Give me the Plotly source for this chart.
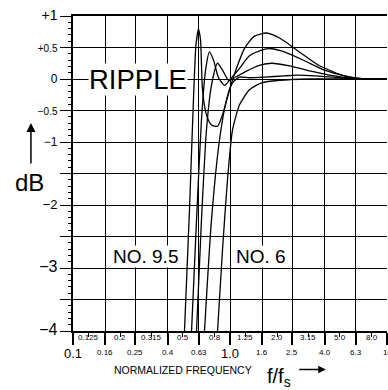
import math
import plotly.graph_objects as go

# ---- data ----
freq_a = [0.513, 0.552, 0.585, 0.607, 0.630, 0.649, 0.668, 0.708, 0.762, 0.833, 0.909, 0.993, 1.10, 1.24, 1.43, 1.71, 2.07, 2.77, 3.72, 5.36, 7.2, 10.0]
db_a = [-4.0, -2.08, -0.33, 0.54, 0.79, 0.62, -0.17, -0.57, -0.73, -0.75, -0.52, -0.17, 0.17, 0.49, 0.68, 0.73, 0.65, 0.43, 0.21, 0.05, 0.0, 0.0]

freq_b = [0.569, 0.612, 0.658, 0.699, 0.740, 0.785, 0.845, 0.922, 1.007, 1.15, 1.33, 1.59, 1.84, 2.22, 2.98, 4.0, 5.36, 7.2, 10.0]
db_b = [-4.0, -2.24, -0.65, 0.14, 0.43, 0.30, 0.02, -0.10, 0.0, 0.17, 0.37, 0.46, 0.48, 0.43, 0.29, 0.14, 0.05, 0.0, 0.0]

freq_c = [0.612, 0.658, 0.708, 0.762, 0.833, 0.896, 0.98, 1.068, 1.24, 1.50, 1.84, 2.39, 3.21, 4.63, 6.8, 10.0]
db_c = [-4.0, -2.24, -0.81, -0.10, 0.25, 0.14, -0.02, 0.02, 0.11, 0.21, 0.25, 0.21, 0.13, 0.05, 0.0, 0.0]

freq_d = [0.688, 0.762, 0.857, 0.950, 1.037, 1.15, 1.33, 1.66, 2.22, 2.69, 3.45, 4.98, 6.8, 10.0]
db_d = [-4.0, -2.24, -0.97, -0.33, -0.06, 0.03, 0.02, 0.03, 0.05, 0.06, 0.05, 0.02, 0.0, 0.0]

freq_e = [0.833, 0.896, 0.964, 1.037, 1.15, 1.33, 1.59, 2.07, 3.21, 10.0]
db_e = [-4.0, -2.71, -1.60, -0.81, -0.41, -0.17, -0.06, -0.02, 0.0, 0.0]

major_f = [0.1, 0.16, 0.25, 0.4, 0.63, 1.0, 1.6, 2.5, 4.0, 6.3, 10.0]
major_lbl = ["0.1", "0.16", "0.25", "0.4", "0.63", "1.0", "1.6", "2.5", "4.0", "6.3", "10"]
minor_f = [0.125, 0.2, 0.315, 0.5, 0.8, 1.25, 2.0, 3.15, 5.0, 8.0]
minor_lbl = ["0.125", "0.2", "0.315", "0.5", "0.8", "1.25", "2.0", "3.15", "5.0", "8.0"]

db_ticks = [1, 0.5, 0, -0.5, -1, -1.5, -2, -2.5, -3, -3.5, -4]
db_lbl = ["+1", "+0.5", "0", "−0.5", "−1", "", "−2", "", "−3", "", "−4"]
db_lbl_size = [14, 10, 12, 10, 12, 10, 13, 10, 16, 10, 16]

FONT = "Liberation Sans"

fig = go.Figure()
for fx, dy in [(freq_a, db_a), (freq_b, db_b), (freq_c, db_c), (freq_d, db_d), (freq_e, db_e)]:
    fig.add_trace(go.Scatter(x=fx, y=dy, mode="lines",
                             line=dict(color="black", width=1.3, shape="spline", smoothing=0.6),
                             showlegend=False, hoverinfo="skip"))

ytext = ['<span style="font-size:%dpx">%s</span>' % (s, t) if t else "" for s, t in zip(db_lbl_size, db_lbl)]

fig.update_xaxes(type="log", range=[-1, 1],
                 tickvals=major_f, showticklabels=False,
                 ticks="outside", ticklen=12, tickwidth=1.6, tickcolor="black",
                 showgrid=True, gridcolor="black", gridwidth=1.1,
                 showline=True, linecolor="black", linewidth=2.2, mirror=True,
                 zeroline=False,
                 minor=dict(tickvals=minor_f, ticks="outside", ticklen=4, tickwidth=1, tickcolor="black", showgrid=False))
fig.update_yaxes(range=[-4, 1], tickvals=db_ticks, ticktext=ytext,
                 ticks="outside", ticklen=11, tickwidth=1.4, tickcolor="black",
                 tickfont=dict(family=FONT, size=12, color="black"),
                 showgrid=True, gridcolor="black", gridwidth=1.1,
                 showline=True, linecolor="black", linewidth=2.2, zeroline=False,
                 minor=dict(dtick=0.1, ticks="outside", ticklen=3, tickwidth=1, tickcolor="black", showgrid=False))

ann = []
for f, t in zip(major_f, major_lbl):
    big = t in ("0.1", "1.0")
    ann.append(dict(x=math.log10(f), y=-0.072 if big else -0.068, xref="x", yref="paper", text=t, showarrow=False,
                    font=dict(family=FONT, size=13 if big else 8, color="black"),
                    xanchor="center", yanchor="middle"))
for f, t in zip(minor_f, minor_lbl):
    ann.append(dict(x=math.log10(f), y=-0.022, xref="x", yref="paper", text=t, showarrow=False,
                    font=dict(family=FONT, size=8, color="black"),
                    xanchor="center", yanchor="middle"))

ann += [
    dict(x=0.206, y=0, xref="paper", yref="y", text="RIPPLE", showarrow=False, xanchor="center",
         font=dict(family=FONT, size=27.5, color="black"), bgcolor="white", borderpad=0),
    dict(x=0.232, y=-2.81, xref="paper", yref="y", text="NO. 9.5", showarrow=False, xanchor="center",
         font=dict(family=FONT, size=19, color="black"), bgcolor="white", borderpad=0),
    dict(x=0.60, y=-2.81, xref="paper", yref="y", text="NO. 6", showarrow=False, xanchor="center",
         font=dict(family=FONT, size=19, color="black"), bgcolor="white", borderpad=0),
    dict(x=-0.137, y=-1.65, xref="paper", yref="y", text="dB", showarrow=False, xanchor="center",
         font=dict(family=FONT, size=24, color="black")),
    dict(x=-0.134, y=-0.70, xref="paper", yref="y", ax=0, ay=42, text="", showarrow=True,
         arrowhead=2, arrowsize=1.2, arrowwidth=1.5, arrowcolor="black"),
    dict(x=0.35, y=-0.124, xref="paper", yref="paper", text="NORMALIZED FREQUENCY", showarrow=False,
         xanchor="center", yanchor="middle", font=dict(family=FONT, size=10.5, color="black")),
    dict(x=0.655, y=-0.148, xref="paper", yref="paper", text="f/f<sub>s</sub>", showarrow=False,
         xanchor="center", yanchor="middle", font=dict(family=FONT, size=20, color="black")),
    dict(x=0.805, y=-0.122, xref="paper", yref="paper", ax=-28, ay=0, text="", showarrow=True,
         arrowhead=2, arrowsize=1.0, arrowwidth=1.5, arrowcolor="black"),
]

fig.update_layout(width=388, height=390, margin=dict(l=73, r=1, t=16, b=59),
                  plot_bgcolor="white", paper_bgcolor="white", annotations=ann,
                  font=dict(family=FONT, color="black"))

fig.write_html("out.html")
